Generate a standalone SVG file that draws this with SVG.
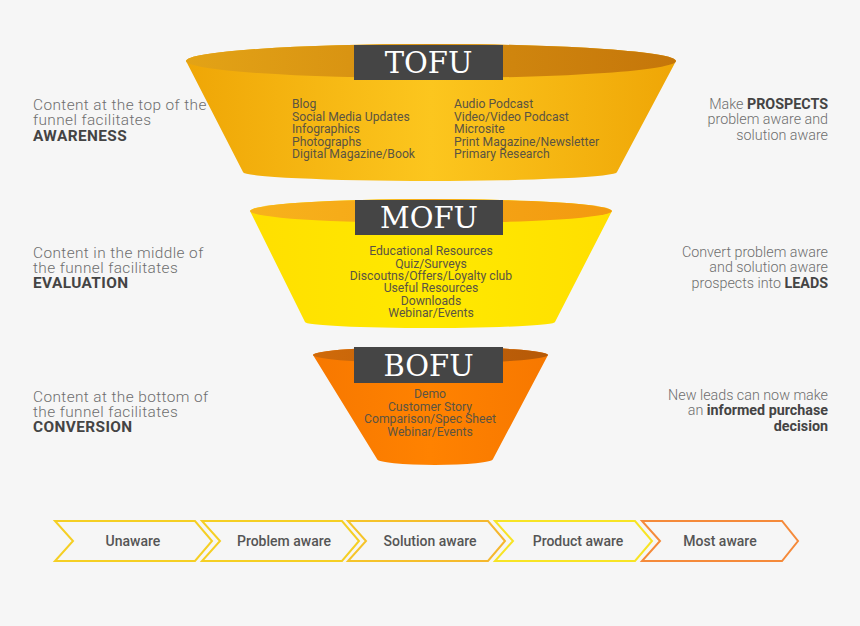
<svg xmlns="http://www.w3.org/2000/svg" width="860" height="626" viewBox="0 0 860 626">
<defs>
<linearGradient id="tofuBody" x1="0" y1="0" x2="1" y2="0"><stop offset="0" stop-color="#efa606"/><stop offset="0.5" stop-color="#fcc61e"/><stop offset="1" stop-color="#efa606"/></linearGradient>
<linearGradient id="tofuRim" x1="0" y1="0" x2="1" y2="0"><stop offset="0" stop-color="#e3a316"/><stop offset="1" stop-color="#c5760a"/></linearGradient>
<linearGradient id="mofuBody" x1="0" y1="0" x2="1" y2="0"><stop offset="0" stop-color="#ffdf00"/><stop offset="0.5" stop-color="#ffe900"/><stop offset="1" stop-color="#ffdf00"/></linearGradient>
<linearGradient id="mofuRim" x1="0" y1="0" x2="1" y2="0"><stop offset="0" stop-color="#f7b21c"/><stop offset="1" stop-color="#f39a10"/></linearGradient>
<linearGradient id="bofuBody" x1="0" y1="0" x2="1" y2="0"><stop offset="0" stop-color="#f77800"/><stop offset="0.5" stop-color="#ff8200"/><stop offset="1" stop-color="#f77800"/></linearGradient>
<linearGradient id="bofuRim" x1="0" y1="0" x2="1" y2="0"><stop offset="0" stop-color="#cf6a0a"/><stop offset="1" stop-color="#b65a08"/></linearGradient>
<linearGradient id="solStroke" x1="0" y1="0" x2="1" y2="0"><stop offset="0" stop-color="#f5c52a"/><stop offset="1" stop-color="#f5b62e"/></linearGradient>
</defs>
<style>
.lbl{fill:#454545}
.lbltxt{font-family:"DejaVu Serif","Liberation Serif",serif;font-size:29px;fill:#ffffff;text-anchor:middle}
.item{font-family:Roboto,"Liberation Sans",sans-serif;font-size:12.2px;fill:#5b5442}
.side{font-family:Roboto,"Liberation Sans",sans-serif;font-weight:300;fill:#6e6e6e}
.sl{font-size:15.4px;letter-spacing:0.4px}
.sr{font-size:14.3px}
.bold{font-weight:700;fill:#444444}
.chev{fill:none;stroke-width:2}
.chevtxt{font-family:Roboto,"Liberation Sans",sans-serif;font-size:14px;font-weight:500;fill:#555555;text-anchor:middle}
</style>
<rect width="860" height="626" fill="#f6f6f6"/>

<g id="tofu">
<path d="M186,61 A245,17 0 0 1 676,61 L617,172 A187,9 0 0 1 243,172 Z" fill="url(#tofuBody)"/>
<ellipse cx="431" cy="61" rx="245" ry="17" fill="url(#tofuRim)"/>
<rect class="lbl" x="354" y="45" width="149" height="35"/>
<text class="lbltxt" x="428.5" y="73">TOFU</text>
<text class="item" x="292" y="108">Blog</text>
<text class="item" x="292" y="120.5">Social Media Updates</text>
<text class="item" x="292" y="133">Infographics</text>
<text class="item" x="292" y="145.5">Photographs</text>
<text class="item" x="292" y="158">Digital Magazine/Book</text>
<text class="item" x="454" y="108">Audio Podcast</text>
<text class="item" x="454" y="120.5">Video/Video Podcast</text>
<text class="item" x="454" y="133">Microsite</text>
<text class="item" x="454" y="145.5">Print Magazine/Newsletter</text>
<text class="item" x="454" y="158">Primary Research</text>
</g>

<g id="mofu">
<path d="M250,211 A181,12 0 0 1 612,211 L555,322 A125,6 0 0 1 305,322 Z" fill="url(#mofuBody)"/>
<ellipse cx="431" cy="211" rx="181" ry="12" fill="url(#mofuRim)"/>
<rect class="lbl" x="355" y="200" width="148" height="35"/>
<text class="lbltxt" x="429" y="228">MOFU</text>
<g text-anchor="middle">
<text class="item" x="431" y="255">Educational Resources</text>
<text class="item" x="431" y="267.5">Quiz/Surveys</text>
<text class="item" x="431" y="280">Discoutns/Offers/Loyalty club</text>
<text class="item" x="431" y="292">Useful Resources</text>
<text class="item" x="431" y="304.5">Downloads</text>
<text class="item" x="431" y="317">Webinar/Events</text>
</g>
</g>

<g id="bofu">
<path d="M313,355 A117.5,8 0 0 1 548,355 L493,459 A58,6 0 0 1 377,459 Z" fill="url(#bofuBody)"/>
<ellipse cx="430.5" cy="355" rx="117.5" ry="8" fill="url(#bofuRim)"/>
<rect class="lbl" x="354" y="347" width="149" height="36"/>
<text class="lbltxt" x="428.5" y="376">BOFU</text>
<g text-anchor="middle">
<text class="item" x="430" y="398">Demo</text>
<text class="item" x="430" y="410.5">Customer Story</text>
<text class="item" x="430" y="423">Comparison/Spec Sheet</text>
<text class="item" x="430" y="435.5">Webinar/Events</text>
</g>
</g>

<g id="left-texts">
<text class="side sl" x="33" y="110">Content at the top of the</text>
<text class="side sl" x="33" y="125">funnel facilitates</text>
<text class="side sl bold" x="33" y="141">AWARENESS</text>
<text class="side sl" x="33" y="258">Content in the middle of</text>
<text class="side sl" x="33" y="273">the funnel facilitates</text>
<text class="side sl bold" x="33" y="288">EVALUATION</text>
<text class="side sl" x="33" y="402">Content at the bottom of</text>
<text class="side sl" x="33" y="417">the funnel facilitates</text>
<text class="side sl bold" x="33" y="432">CONVERSION</text>
</g>

<g id="right-texts" text-anchor="end">
<text class="side sr" x="828" y="109">Make <tspan class="bold">PROSPECTS</tspan></text>
<text class="side sr" x="828" y="124">problem aware and</text>
<text class="side sr" x="828" y="140">solution aware</text>
<text class="side sr" x="828" y="257">Convert problem aware</text>
<text class="side sr" x="828" y="272">and solution aware</text>
<text class="side sr" x="828" y="288">prospects into <tspan class="bold">LEADS</tspan></text>
<text class="side sr" x="828" y="400">New leads can now make</text>
<text class="side sr" x="828" y="415">an <tspan class="bold">informed purchase</tspan></text>
<text class="side sr bold" x="828" y="431">decision</text>
</g>

<g id="stages">
<g id="stage-unaware">
<path class="chev" stroke="#f5cf24" d="M55,521 H195 L212,541 L195,561 H55 L73,541 Z"/>
<text class="chevtxt" x="133" y="546">Unaware</text>
</g>
<g id="stage-problem">
<path class="chev" stroke="#f5cf24" d="M202,521 H342 L359,541 L342,561 H202 L220,541 Z"/>
<text class="chevtxt" x="284" y="546">Problem aware</text>
</g>
<g id="stage-solution">
<path class="chev" stroke="url(#solStroke)" d="M348,521 H488 L505,541 L488,561 H348 L366,541 Z"/>
<text class="chevtxt" x="430" y="546">Solution aware</text>
</g>
<g id="stage-product">
<path class="chev" stroke="#f7e425" d="M495,521 H635 L652,541 L635,561 H495 L513,541 Z"/>
<text class="chevtxt" x="578" y="546">Product aware</text>
</g>
<g id="stage-most">
<path class="chev" stroke="#f58a3a" d="M642,521 H782 L798,541 L782,561 H642 L660,541 Z"/>
<text class="chevtxt" x="720" y="546">Most aware</text>
</g>
</g>
</svg>
